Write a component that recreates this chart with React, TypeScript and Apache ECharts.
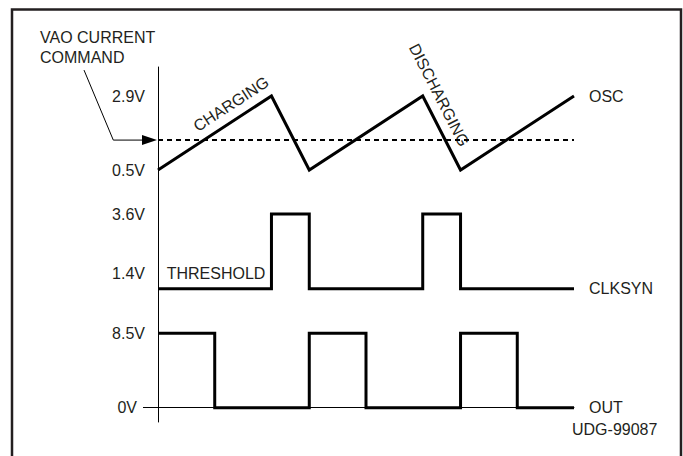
import React, { useEffect, useRef } from "react";
import * as echarts from "echarts";

// ---- data ----
const timeMax = 11;
const oscTime = [0, 3, 4, 7, 8, 11];
const oscVolts = [0.5, 2.9, 0.5, 2.9, 0.5, 2.9];
const vaoLevel = 1.47;
const clkTime = [0, 3, 3, 4, 4, 7, 7, 8, 8, 11];
const clkVolts = [1.4, 1.4, 3.6, 3.6, 1.4, 1.4, 3.6, 3.6, 1.4, 1.4];
const outTime = [0, 1.5, 1.5, 4, 4, 5.5, 5.5, 8, 8, 9.5, 9.5, 11];
const outVolts = [8.5, 8.5, 0, 0, 8.5, 8.5, 0, 0, 8.5, 8.5, 0, 0];
const oscTicks = [0.5, 2.9];
const clkTicks = [1.4, 3.6];
const outTicks = [0, 8.5];
const seriesNames = ["OSC", "CLKSYN", "OUT"];
const vaoText = "VAO CURRENT\nCOMMAND";
const chargingText = "CHARGING";
const dischargingText = "DISCHARGING";
const thresholdText = "THRESHOLD";
const figureId = "UDG-99087";

const INK = "#231f20";
const FONT = "Liberation Sans, Arial, Helvetica, sans-serif";
const FS = 16;

const zip = (a: number[], b: number[]) => a.map((v, i) => [v, b[i]]);

export default function App() {
  const ref = useRef<HTMLDivElement>(null);
  useEffect(() => {
    if (!ref.current) return;
    const chart = echarts.init(ref.current, null, { renderer: "svg" });
    const gridLeft = 158;
    const gridWidth = 416;
    const baseX = (i: number, show = false) => ({
      type: "value",
      gridIndex: i,
      min: 0,
      max: timeMax,
      show,
      axisLine: { show, onZero: true, lineStyle: { color: "#000", width: 1 } },
      axisTick: { show: false },
      axisLabel: { show: false },
      splitLine: { show: false },
    });
    const labelStyle = {
      color: INK,
      fontSize: FS,
      fontFamily: FONT,
      margin: 13,
    };
    const lineSeries = (name: string, idx: number, data: number[][], end: boolean) => ({
      type: "line",
      name,
      xAxisIndex: idx,
      yAxisIndex: idx,
      data,
      symbol: "none",
      clip: false,
      silent: true,
      lineStyle: { color: "#000", width: 3, join: "miter", cap: "butt" },
      endLabel: end
        ? {
            show: true,
            formatter: "{a}",
            distance: 15,
            color: INK,
            fontSize: FS,
            fontFamily: FONT,
          }
        : undefined,
    });
    const option: any = {
      animation: false,
      backgroundColor: "#fff",
      grid: [
        { left: gridLeft, top: 67, width: gridWidth, height: 355 },
        { left: gridLeft, top: 96, width: gridWidth, height: 74 },
        { left: gridLeft, top: 214, width: gridWidth, height: 74.7 },
        { left: gridLeft, top: 333.3, width: gridWidth, height: 74.4 },
      ],
      xAxis: [baseX(0), baseX(1), baseX(2), baseX(3, true)],
      yAxis: [
        {
          type: "value",
          gridIndex: 0,
          min: 0,
          max: 1,
          axisLine: { show: true, lineStyle: { color: "#000", width: 1 } },
          axisTick: { show: false },
          axisLabel: { show: false },
          splitLine: { show: false },
        },
        {
          type: "value",
          gridIndex: 1,
          min: 0.5,
          max: 2.9,
          axisLine: { show: false },
          axisTick: { show: false },
          splitLine: { show: false },
          axisLabel: {
            ...labelStyle,
            customValues: oscTicks,
            formatter: (v: number) => `${v}V`,
          },
        },
        {
          type: "value",
          gridIndex: 2,
          min: 1.4,
          max: 3.6,
          axisLine: { show: false },
          axisTick: { show: false },
          splitLine: { show: false },
          axisLabel: {
            ...labelStyle,
            customValues: clkTicks,
            formatter: (v: number) => (v === clkTicks[0] ? `{up|${v}V}` : `{n|${v}V}`),
            rich: {
              up: { fontSize: FS, fontFamily: FONT, color: INK, padding: [0, 0, 31, 0] },
              n: { fontSize: FS, fontFamily: FONT, color: INK },
            },
          },
        },
        {
          type: "value",
          gridIndex: 3,
          min: 0,
          max: 8.5,
          axisLine: { show: false },
          axisTick: {
            show: true,
            customValues: [outTicks[0]],
            length: 15,
            lineStyle: { color: "#000", width: 1 },
          },
          splitLine: { show: false },
          axisLabel: {
            ...labelStyle,
            customValues: outTicks,
            formatter: (v: number) => (v === 0 ? `{z|${v}V}` : `{n|${v}V}`),
            rich: {
              z: { fontSize: FS, fontFamily: FONT, color: INK, padding: [0, 8, 0, 0] },
              n: { fontSize: FS, fontFamily: FONT, color: INK },
            },
          },
        },
      ],
      series: [
        {
          type: "line",
          name: "VAO",
          xAxisIndex: 1,
          yAxisIndex: 1,
          data: [
            [0, vaoLevel],
            [timeMax, vaoLevel],
          ],
          symbol: "none",
          clip: false,
          silent: true,
          lineStyle: { color: "#000", width: 2, type: [5, 4] },
          z: 1,
        },
        lineSeries(seriesNames[0], 1, zip(oscTime, oscVolts), true),
        lineSeries(seriesNames[1], 2, zip(clkTime, clkVolts), true),
        lineSeries(seriesNames[2], 3, zip(outTime, outVolts), true),
      ],
    };
    chart.setOption(option);

    const px = (idx: number, p: number[]) =>
      chart.convertToPixel({ xAxisIndex: idx, yAxisIndex: idx } as any, p) as number[];
    const peak1 = px(1, [oscTime[1], oscVolts[1]]);
    const start = px(1, [oscTime[0], oscVolts[0]]);
    const peak2 = px(1, [oscTime[3], oscVolts[3]]);
    const trough2 = px(1, [oscTime[4], oscVolts[4]]);
    const tip = px(1, [0, vaoLevel]);
    const clk0 = px(2, [clkTime[0], clkVolts[0]]);
    const outEnd = px(3, [timeMax, 0]);
    const riseAngle = Math.atan2(-(peak1[1] - start[1]), peak1[0] - start[0]);
    const fallAngle = Math.atan2(-(trough2[1] - peak2[1]), trough2[0] - peak2[0]);
    const txt = (extra: any) => ({
      type: "text",
      silent: true,
      ...extra,
      style: {
        fill: INK,
        fontSize: FS,
        fontFamily: FONT,
        ...extra.style,
      },
    });

    chart.setOption({
      graphic: [
        {
          type: "rect",
          silent: true,
          shape: { x: 12, y: 9.5, width: 669, height: 460 },
          style: { fill: "none", stroke: INK, lineWidth: 2.5 },
        },
        txt({
          x: 40,
          y: 27.5,
          style: { text: vaoText, lineHeight: 20, align: "left", verticalAlign: "top" },
        }),
        {
          type: "polyline",
          silent: true,
          shape: {
            points: [
              [tip[0] - 74, tip[1] - 70],
              [tip[0] - 44.7, tip[1]],
              [tip[0] - 15, tip[1]],
            ],
          },
          style: { stroke: "#000", lineWidth: 1, fill: "none" },
        },
        {
          type: "polygon",
          silent: true,
          shape: {
            points: [
              [tip[0] - 16, tip[1] - 5],
              [tip[0] - 1, tip[1]],
              [tip[0] - 16, tip[1] + 5],
            ],
          },
          style: { fill: "#000" },
        },
        txt({
          x: peak1[0] - 40.4,
          y: peak1[1] + 8,
          rotation: riseAngle,
          style: { text: chargingText, align: "center", verticalAlign: "middle" },
        }),
        txt({
          x: peak2[0] + 16.4,
          y: peak2[1] - 1,
          rotation: fallAngle,
          style: { text: dischargingText, align: "center", verticalAlign: "middle" },
        }),
        txt({
          x: clk0[0] + 8.7,
          y: clk0[1] - 15.7,
          style: { text: thresholdText, align: "left", verticalAlign: "middle" },
        }),
        txt({
          x: outEnd[0] - 2,
          y: outEnd[1] + 21.3,
          style: { text: figureId, align: "left", verticalAlign: "middle" },
        }),
      ],
    });

    return () => chart.dispose();
  }, []);
  return (
    <div
      ref={ref}
      style={{ position: "absolute", left: 0, top: 0, width: 683, height: 456, background: "#fff" }}
    />
  );
}
